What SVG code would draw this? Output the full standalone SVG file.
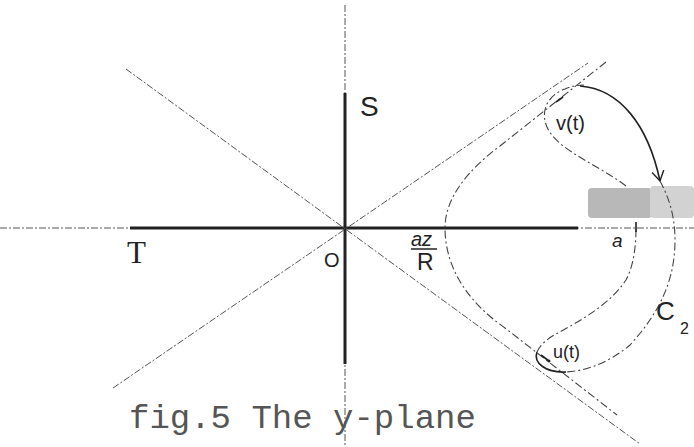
<svg xmlns="http://www.w3.org/2000/svg" width="694" height="447" viewBox="0 0 694 447">
<style>
.thin{fill:none;stroke:#555;stroke-width:1;stroke-dasharray:7 2 2 2}
.thick{fill:none;stroke:#222;stroke-width:3}
.cont{fill:none;stroke:#444;stroke-width:1.1;stroke-dasharray:8 3 2 3}
.solid{fill:none;stroke:#222;stroke-width:1.6}
.hand{font-family:"Liberation Sans",Arial,sans-serif;fill:#222}
.cap{font-family:"Liberation Mono","Courier New",monospace;fill:#555}
</style>
<defs>
<marker id="vhead" markerWidth="14" markerHeight="14" refX="10" refY="7" orient="auto" markerUnits="userSpaceOnUse">
<path d="M0,1 L10,7 L0,13" fill="none" stroke="#222" stroke-width="1.4"/>
</marker>
</defs>
<g id="blob">
<rect x="588" y="188" width="64" height="30" rx="4" fill="#b8b8b8"/>
<rect x="650" y="186" width="44" height="32" rx="4" fill="#d2d2d2"/>
</g>
<g id="axes">
<line class="thin" x1="0" y1="228" x2="694" y2="228"/>
<line class="thin" x1="345" y1="5" x2="345" y2="447"/>
<line class="thick" x1="130" y1="228" x2="578" y2="228"/>
<line class="thick" x1="345" y1="93" x2="345" y2="364"/>
<line class="thin" x1="126" y1="69" x2="640" y2="444"/>
<line class="thin" x1="113" y1="388" x2="588" y2="63"/>
</g>
<g id="connectors">
<path id="inner" class="cont" d="M606,62 L500,146 C465,172 445,200 445,228 C445,265 465,300 505,328 L617,415"/>
<path id="vloop" class="cont" d="M626,186 C600,166 562,152 549,131 C538,112 548,95 565,89 C572,86 578,85 584,85"/>
<path id="varc" class="solid" d="M580,86 C620,89 648,125 660,181" marker-end="url(#vhead)"/>
<path id="c2" class="cont" d="M660,181 C668,196 675,214 675,240 C675,280 660,312 630,345 C612,360 590,371 565,372"/>
<path id="uloop" class="solid" d="M566,372 C546,373 533,363 537,352"/>
<path id="toa" class="cont" d="M537,352 C540,345 547,339 556,334 C582,320 610,304 626,280 C634,265 636,245 636,228"/>
<line class="solid" x1="636" y1="222" x2="636" y2="232"/>
<line class="solid" x1="563" y1="97" x2="556" y2="102"/>
<line class="solid" x1="541" y1="355" x2="549" y2="361"/>
<circle cx="549" cy="361" r="1.5" fill="#222"/>
</g>
<g id="labels">
<text class="hand" x="360" y="116" font-size="28">S</text>
<text x="127" y="263" font-size="31" font-family="Liberation Serif,serif" fill="#222">T</text>
<text class="hand" x="324" y="267" font-size="20">O</text>
<text class="hand" x="411" y="246" font-size="20" font-style="italic">az</text>
<line x1="411" y1="249" x2="437" y2="249" stroke="#222" stroke-width="1.5"/>
<text class="hand" x="417" y="270" font-size="23">R</text>
<text class="hand" x="612" y="247" font-size="19" font-style="italic">a</text>
<text class="hand" x="656" y="320" font-size="26">C</text>
<text class="hand" x="680" y="334" font-size="16">2</text>
<text class="hand" x="556" y="130" font-size="20">v(t)</text>
<text class="hand" x="553" y="358" font-size="18">u(t)</text>
<text class="cap" x="129" y="428" font-size="34">fig.5 The y-plane</text>
</g>
</svg>
